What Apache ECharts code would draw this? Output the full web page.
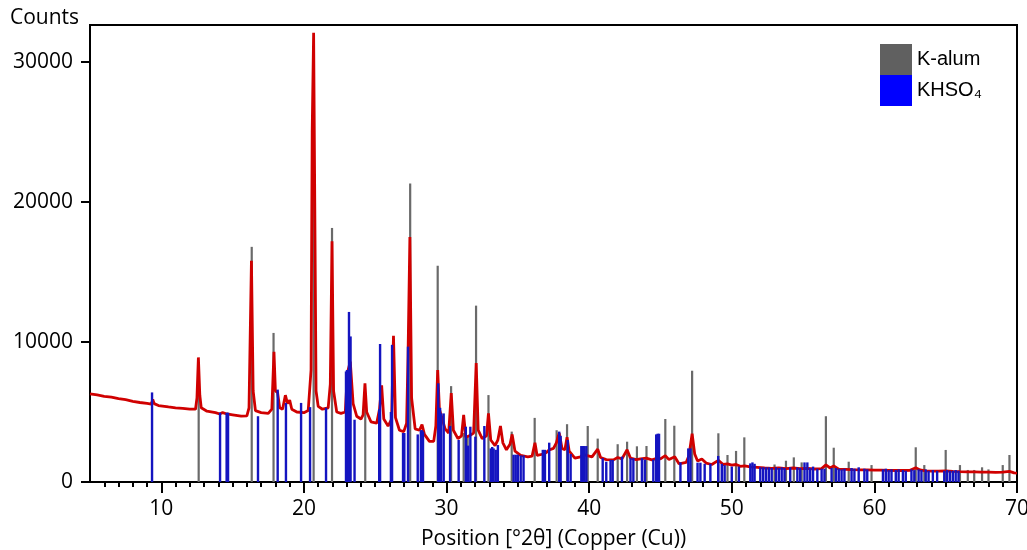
<!DOCTYPE html>
<html>
<head>
<meta charset="utf-8">
<script src="https://cdn.jsdelivr.net/npm/echarts@6/dist/echarts.min.js"></script>
<style>
html,body{margin:0;padding:0;background:#fff;}
#chart{width:1027px;height:550px;}
</style>
</head>
<body>
<div id="chart"></div>
<script>
// Measured scan (red trace): [2theta, counts]
const scanPoints = [
[5.0,6300],[5.5,6220],[6.0,6120],[6.5,6060],[7.0,5960],[7.5,5880],[8.0,5760],[8.5,5680],[9.0,5610],[9.3,5560],[9.4,5900],[9.5,5600],[9.8,5460],[10.5,5360],[11.0,5300],[11.5,5260],[12.0,5210],[12.4,5200],[12.5,6000],[12.6,8900],[12.7,6200],[12.8,5300],[13.2,5060],[13.8,4960],[14.1,4860],[14.3,4960],[14.6,4860],[15.0,4800],[15.6,4700],[16.0,4720],[16.15,5300],[16.32,15800],[16.44,6500],[16.6,5100],[17.0,4960],[17.5,4900],[17.75,5200],[17.9,9300],[18.0,6500],[18.15,6400],[18.3,5300],[18.5,5200],[18.7,6200],[18.85,5600],[19.0,5850],[19.15,5200],[19.5,5000],[20.0,4950],[20.3,5100],[20.5,8000],[20.58,25000],[20.68,32100],[20.76,20000],[20.85,6500],[21.0,5400],[21.3,5200],[21.7,5300],[21.85,7000],[21.97,17200],[22.08,6500],[22.3,5000],[22.6,4900],[22.9,5000],[23.05,7800],[23.25,8600],[23.45,5600],[23.7,4700],[24.0,4500],[24.15,4800],[24.28,7050],[24.4,5000],[24.7,4300],[25.1,4200],[25.3,5200],[25.45,6900],[25.6,4500],[25.9,4000],[26.15,4500],[26.28,10450],[26.42,4600],[26.7,3700],[27.0,3600],[27.2,4200],[27.3,9000],[27.43,17500],[27.55,6000],[27.8,3800],[28.1,3700],[28.28,4100],[28.45,3400],[28.8,2900],[29.1,2900],[29.25,4000],[29.38,8000],[29.5,5200],[29.7,4500],[29.9,3800],[30.15,3500],[30.33,6350],[30.48,3700],[30.8,3100],[31.05,3300],[31.2,4800],[31.35,3200],[31.6,3300],[31.9,3500],[32.08,8500],[32.22,3700],[32.5,3100],[32.8,3300],[32.94,4900],[33.1,3000],[33.4,2600],[33.6,3000],[33.78,4000],[33.95,2800],[34.2,2300],[34.45,2700],[34.6,3400],[34.8,2200],[35.2,1900],[35.7,1800],[36.0,1850],[36.2,2800],[36.35,1900],[36.8,2000],[37.0,2100],[37.2,2300],[37.5,2400],[37.7,2800],[37.9,3500],[38.1,2400],[38.3,2300],[38.45,3200],[38.6,2200],[39.0,1700],[39.4,1800],[39.6,2000],[39.8,1900],[40.2,1800],[40.6,2350],[40.8,1750],[41.2,1600],[41.7,1580],[42.0,1750],[42.3,1650],[42.66,2300],[42.9,1700],[43.3,1600],[43.6,1650],[44.0,1700],[44.4,1580],[44.8,1700],[45.0,1650],[45.34,1880],[45.6,1600],[46.0,1800],[46.3,1300],[46.8,1400],[47.0,1900],[47.22,3450],[47.4,2000],[47.6,1500],[47.9,1650],[48.2,1350],[48.6,1250],[49.06,1550],[49.4,1250],[49.7,1300],[50.0,1200],[50.3,1250],[50.6,1120],[50.9,1150],[51.3,1080],[51.8,1050],[52.3,1000],[52.8,980],[53.3,1000],[53.8,960],[54.3,1000],[54.8,950],[55.3,980],[55.8,930],[56.3,960],[56.6,1220],[56.9,1000],[57.15,1150],[57.5,920],[58.0,900],[58.5,880],[59.0,870],[59.5,860],[60.0,850],[60.5,850],[61.0,830],[61.5,820],[62.0,820],[62.5,830],[62.9,1020],[63.2,860],[63.6,800],[64.0,780],[64.5,770],[65.0,800],[65.5,760],[66.0,740],[66.5,730],[67.0,720],[67.5,710],[68.0,700],[68.5,690],[69.0,700],[69.47,760],[69.8,650],[70.0,640]
];
// K-alum reference sticks: [2theta, counts]
const kAlumSticks = [
[12.62,7000],[16.34,16800],[17.87,10650],[20.68,30300],[21.97,18150],[24.3,6000],[27.45,21330],[29.38,15450],[30.32,6850],[31.2,3500],[31.48,3300],[32.07,12600],[32.94,6210],[34.57,3600],[36.18,4580],[37.72,3700],[38.45,4130],[39.9,4000],[40.6,3100],[42.0,2700],[42.66,2880],[43.35,2550],[44.02,2570],[45.34,4500],[45.97,4020],[47.22,7950],[49.06,3480],[49.7,1930],[50.3,2220],[50.88,3190],[53.0,1250],[53.8,1520],[54.35,1760],[54.9,1400],[56.6,4700],[57.15,2450],[58.2,1450],[59.8,1210],[62.9,2480],[63.5,1210],[65.0,2290],[66.0,1210],[66.55,860],[67.0,860],[67.55,1050],[68.0,900],[69.0,1210],[69.47,1930]
];
// KHSO4 reference sticks: [2theta, counts]
const khso4Sticks = [
[9.35,6400],[14.12,4950],[14.58,4950],[14.68,4950],[16.78,4700],[18.16,6600],[18.74,5650],[19.8,5650],[20.43,5350],[21.55,5300],[22.95,7900],[23.02,8000],[23.1,8000],[23.16,12150],[23.27,10400],[23.55,4450],[25.28,5200],[25.34,9860],[26.1,5000],[26.18,9800],[26.95,3500],[27.04,3500],[27.3,9670],[27.98,3400],[28.2,3700],[28.28,3700],[28.35,3600],[29.42,7050],[29.55,5300],[29.62,4900],[29.8,4900],[30.25,4000],[30.85,3000],[31.35,3950],[31.5,2600],[31.67,3950],[32.02,3240],[32.65,4000],[33.1,2400],[33.2,2500],[33.3,2400],[33.45,2300],[33.6,2640],[34.7,1950],[34.85,1950],[35.0,1950],[35.2,1900],[35.4,1900],[36.75,2300],[36.9,2300],[37.2,2810],[37.9,3600],[38.0,3300],[38.5,3000],[38.7,2000],[39.45,2570],[39.55,2570],[39.65,2570],[39.8,2570],[40.95,1700],[41.2,1450],[41.5,1570],[41.65,1570],[42.3,1810],[42.9,1700],[43.1,1700],[43.7,1700],[43.9,1600],[44.5,1600],[44.7,3400],[44.8,3450],[44.9,3450],[46.4,1400],[46.95,2400],[47.1,2400],[47.6,1380],[47.8,1380],[48.1,1300],[48.5,1300],[49.05,1860],[49.3,1300],[49.5,1200],[50.0,1100],[50.5,1100],[51.3,1330],[51.45,1400],[51.6,1300],[52.0,1050],[52.2,1050],[52.4,1050],[52.6,1050],[52.8,1000],[53.1,1050],[53.3,1000],[53.5,1050],[53.7,1000],[54.1,1050],[54.6,1050],[54.8,1000],[55.1,1400],[55.3,1400],[55.5,1000],[55.7,1100],[56.0,950],[56.3,950],[56.5,950],[57.0,1000],[57.3,1000],[57.5,950],[57.7,900],[57.9,950],[58.4,1000],[58.6,950],[58.9,1050],[59.3,950],[59.5,900],[60.6,900],[60.8,950],[61.0,850],[61.2,900],[61.5,850],[61.7,900],[62.0,850],[62.2,800],[62.6,900],[62.8,850],[63.1,900],[63.3,850],[63.6,900],[63.8,800],[64.1,850],[64.4,800],[64.9,800],[65.1,850],[65.3,800],[65.5,800],[65.7,850],[65.9,800]
];
const xMajorTicks = [10,20,30,40,50,60,70];
const xMinorTicks = [];
for (let v = 6; v <= 69; v++) { if (v % 10 !== 0) xMinorTicks.push(v); }
const yTicks = [0,10000,20000,30000];
const legendNames = ['K-alum','KHSO₄'];

const FONT = '"Open Sans", "Noto Sans", sans-serif';
const chart = echarts.init(document.getElementById('chart'), null, {renderer:'canvas'});

function stickRenderer(color, width) {
  return function (params, api) {
    const top = api.coord([api.value(0), api.value(1)]);
    const base = api.coord([api.value(0), 0]);
    return {
      type: 'line',
      shape: {x1: top[0], y1: top[1], x2: base[0], y2: base[1]},
      style: {stroke: color, lineWidth: width}
    };
  };
}

chart.setOption({
  animation: false,
  backgroundColor: '#fff',
  grid: {left: 90, right: 10, top: 25, bottom: 68, show: true, borderColor: '#000', borderWidth: 2,
         backgroundColor: 'transparent', containLabel: false, outerBoundsMode: 'none'},
  graphic: [{
    type: 'text', left: 10, top: 8,
    style: {text: 'Counts', font: '21px ' + FONT, fill: '#000'}
  }],
  legend: {
    orient: 'vertical', left: 880, top: 44, itemGap: 0, itemWidth: 32, itemHeight: 31,
    padding: 0, icon: 'rect',
    textStyle: {fontFamily: '"Liberation Sans", Arial, "DejaVu Sans", sans-serif', fontSize: 20, color: '#000'},
    data: [
      {name: legendNames[0], itemStyle: {color: '#606060'}},
      {name: legendNames[1], itemStyle: {color: '#0000ff'}}
    ]
  },
  xAxis: [{
    type: 'value', min: 5, max: 70, position: 'bottom',
    name: 'Position [°2θ] (Copper (Cu))', nameLocation: 'middle', nameGap: 47,
    nameTextStyle: {fontFamily: FONT, fontSize: 21, color: '#000'},
    axisLine: {show: true, onZero: false, lineStyle: {color: '#000', width: 2}},
    axisTick: {show: true, length: 11, lineStyle: {color: '#000', width: 2}, customValues: xMajorTicks},
    axisLabel: {fontFamily: FONT, fontSize: 21, color: '#000', margin: 17, customValues: xMajorTicks,
                formatter: function (v) { return String(v); }},
    splitLine: {show: false}
  }, {
    type: 'value', min: 5, max: 70, position: 'bottom', offset: 0,
    axisLine: {show: false},
    axisTick: {show: true, length: 5, lineStyle: {color: '#000', width: 2}, customValues: xMinorTicks},
    axisLabel: {show: false},
    splitLine: {show: false}
  }],
  yAxis: {
    type: 'value', min: 0, max: 32650,
    axisLine: {show: true, lineStyle: {color: '#000', width: 2}},
    axisTick: {show: true, length: 9, lineStyle: {color: '#000', width: 2}, customValues: yTicks},
    axisLabel: {fontFamily: FONT, fontSize: 21, color: '#000', margin: 17, customValues: yTicks,
                formatter: function (v) { return String(v); }},
    splitLine: {show: false}
  },
  series: [{
    name: legendNames[0], type: 'custom', xAxisIndex: 0, z: 2,
    encode: {x: 0, y: 1}, data: kAlumSticks,
    itemStyle: {color: '#606060'},
    renderItem: stickRenderer('#6a6a6a', 2.2)
  }, {
    name: 'scan', type: 'line', xAxisIndex: 0, z: 3,
    data: scanPoints, showSymbol: false, symbol: 'none',
    lineStyle: {color: '#d00000', width: 2.8}, itemStyle: {color: '#d00000'}
  }, {
    name: legendNames[1], type: 'custom', xAxisIndex: 0, z: 4,
    encode: {x: 0, y: 1}, data: khso4Sticks,
    itemStyle: {color: '#0000ff'},
    renderItem: stickRenderer('#1414c0', 2.4)
  }]
});
</script>
</body>
</html>
